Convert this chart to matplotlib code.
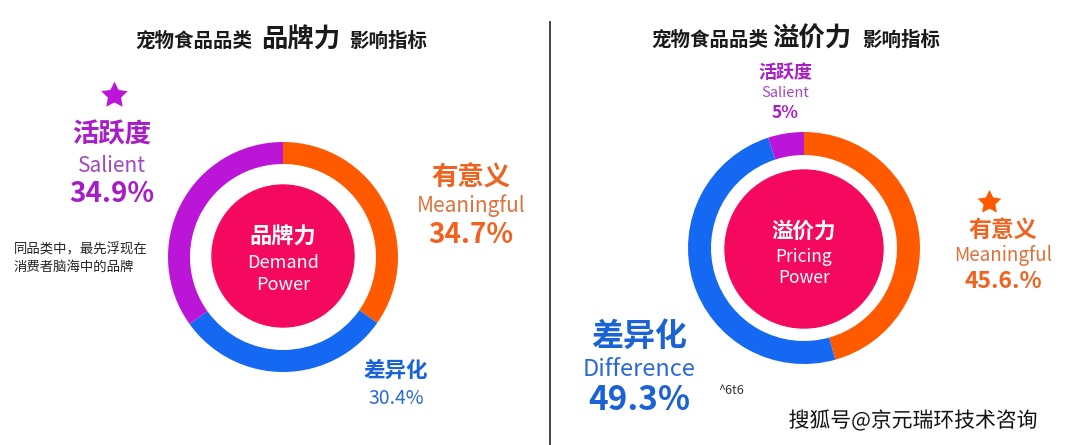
# two donut charts: brand power vs pricing power drivers for pet food

import matplotlib
matplotlib.use('Agg')
import matplotlib.pyplot as plt
import matplotlib.patheffects as pe
import numpy as np
from matplotlib.patches import Circle

plt.rcParams['font.family'] = ['Noto Sans CJK SC', 'DejaVu Sans']

W, H = 1080, 445

# data
labels_cn = ['有意义', '差异化', '活跃度']
labels_en = ['Meaningful', 'Difference', 'Salient']
brand_values = [34.7, 30.4, 34.9]
brand_texts = ['34.7%', '30.4%', '34.9%']
price_values = [45.6, 49.3, 5.0]
price_texts = ['45.6.%', '49.3%', '5%']

ring_colors = ['#FF5A00', '#1468F2', '#BB16D8']
text_colors = ['#F0621E', '#1A62D6', '#A81CC8']
light_colors = ['#E0703C', '#2A6AD8', '#A048C0']
core_color = '#F5095E'

# chunky five point star marker
ang = np.pi / 2 + np.arange(10) * np.pi / 5
rad = np.where(np.arange(10) % 2 == 0, 1.0, 0.5)
star = list(zip(rad * np.cos(ang), rad * np.sin(ang)))


def py(y):
    # picture rows run downwards, axis runs upwards
    return H - y


fig = plt.figure(figsize=(W / 100, H / 100), dpi=100)
ax = fig.add_axes([0, 0, 1, 1])

# left donut
ax.pie(brand_values, colors=ring_colors, startangle=90, counterclock=False,
       center=(283, py(257)), radius=115,
       wedgeprops=dict(width=22, edgecolor='none'))
ax.add_patch(Circle((283, py(256)), 71, color=core_color, zorder=3))

# right donut
ax.pie(price_values, colors=ring_colors, startangle=90, counterclock=False,
       center=(804, py(248)), radius=116,
       wedgeprops=dict(width=23, edgecolor='none'))
ax.add_patch(Circle((804, py(249)), 79, color=core_color, zorder=3))

ax.set_xlim(0, W)
ax.set_ylim(0, H)
ax.set_aspect('equal')
ax.axis('off')

# divider
ax.plot([550, 550], [py(22), py(445)], color='#444444', lw=1.4)


def title(cx, mid, left_x, right_x, y):
    ax.text(left_x, py(y), '宠物食品品类', ha='right', va='center',
            fontsize=14, fontweight='black', color='#1a1a1a')
    ax.text(cx, py(y - 1), mid, ha='center', va='center',
            fontsize=19, fontweight='black', color='#1a1a1a')
    ax.text(right_x, py(y), '影响指标', ha='left', va='center',
            fontsize=14, fontweight='black', color='#1a1a1a')


title(301, '品牌力', 252, 349, 41)
title(812, '溢价力', 768, 862, 40)

# center texts
for cx, lines in [(283, [('品牌力', 237, 16, 'bold'), ('Demand', 263, 13, 'normal'), ('Power', 285, 13, 'normal')]),
                  (804, [('溢价力', 231, 15.5, 'bold'), ('Pricing', 257, 12.5, 'normal'), ('Power', 278, 12.5, 'normal')])]:
    for s, y, fs, fw in lines:
        ax.text(cx, py(y), s, ha='center', va='center', fontsize=fs,
                fontweight=fw, color='white', zorder=4)


def block(x, ys, sizes, i, pct, weights=('bold', 'normal', 'bold')):
    texts = [labels_cn[i], labels_en[i], pct]
    cols = [text_colors[i], light_colors[i], text_colors[i]]
    for s, y, fs, c, fw in zip(texts, ys, sizes, cols, weights):
        ax.text(x, py(y), s, ha='center', va='center', fontsize=fs,
                fontweight=fw, color=c)


# left side labels
ax.plot(114, py(95), marker=star, markersize=20, color=ring_colors[2], mec='none')
block(112, [135, 166, 194], [19, 15, 20], 2, brand_texts[2])
block(471, [178, 206, 235], [19, 15, 20], 0, brand_texts[0])
ax.text(396, py(370), labels_cn[1], ha='center', va='center', fontsize=15.5,
        fontweight='bold', color=text_colors[1])
ax.text(396, py(398), brand_texts[1], ha='center', va='center', fontsize=14,
        color=light_colors[1])
ax.text(14, py(249), '同品类中，最先浮现在', ha='left', va='center',
        fontsize=9.6, color='#222222')
ax.text(14, py(267), '消费者脑海中的品牌', ha='left', va='center',
        fontsize=9.6, color='#222222')

# right side labels
block(785, [73, 93, 113], [13, 10.5, 12.5], 2, price_texts[2])
ax.plot(989, py(202), marker=star, markersize=18, color=ring_colors[0], mec='none')
block(1003, [230, 256, 282], [16.5, 13.5, 16.5], 0, price_texts[0])
block(639, [337, 369, 400], [23, 17, 24], 1, price_texts[1])
ax.text(718, py(390), '^6t6', ha='left', va='center', fontsize=9, color='#333333')

# watermark
ax.text(1038, py(421), '搜狐号@京元瑞环技术咨询', ha='right', va='center',
        fontsize=15, fontweight='medium', color='#111111',
        path_effects=[pe.withStroke(linewidth=3, foreground='white')])

fig.savefig('out.png', dpi=100)
